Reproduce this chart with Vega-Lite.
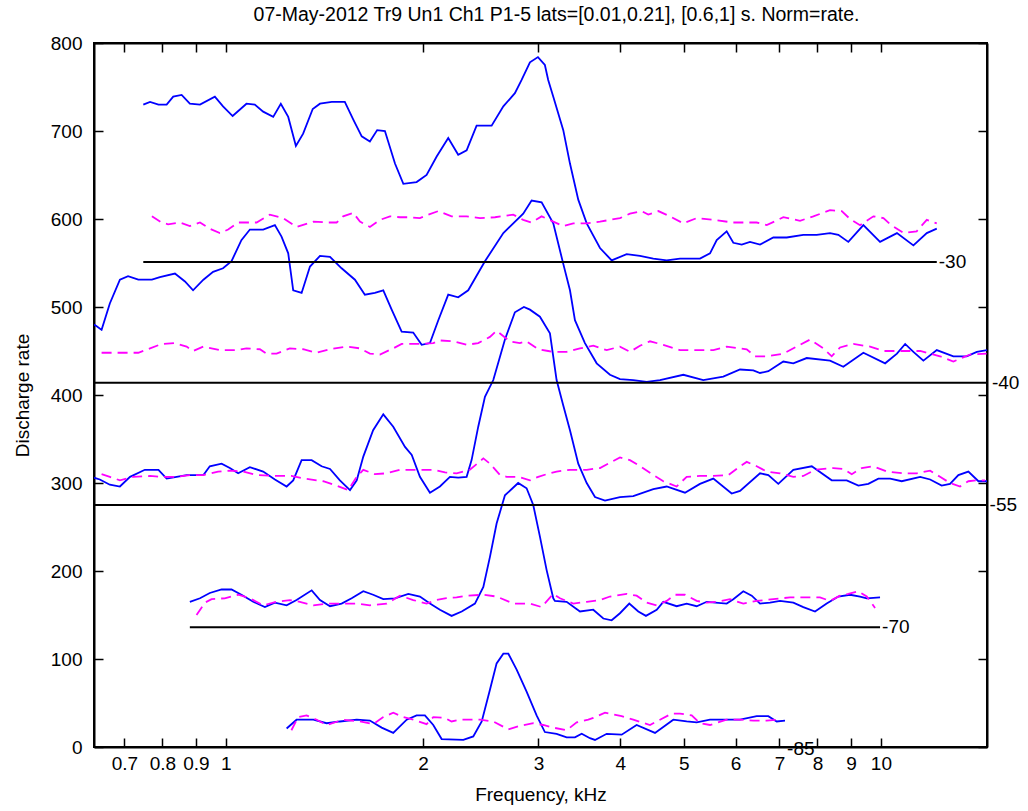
{
  "$schema": "https://vega.github.io/schema/vega-lite/v6.json",
  "autosize": {"type": "none"},
  "padding": {"left": 94, "top": 43, "right": 41, "bottom": 64},
  "width": 893,
  "height": 704,
  "background": "white",
  "title": {
    "text": "07-May-2012 Tr9 Un1 Ch1 P1-5 lats=[0.01,0.21], [0.6,1] s. Norm=rate.",
    "font": "Liberation Sans",
    "fontSize": 19.5,
    "fontWeight": "normal",
    "color": "black",
    "anchor": "middle",
    "dx": 16,
    "offset": 9
  },
  "datasets": {
    "curves": [
      {"s":"-30","k":"d","f":0.748,"r":730},{"s":"-30","k":"d","f":0.766,"r":733},{"s":"-30","k":"d","f":0.789,"r":730},{"s":"-30","k":"d","f":0.812,"r":730},{"s":"-30","k":"d","f":0.831,"r":739},{"s":"-30","k":"d","f":0.856,"r":741},{"s":"-30","k":"d","f":0.881,"r":731},{"s":"-30","k":"d","f":0.913,"r":730},{"s":"-30","k":"d","f":0.962,"r":739},{"s":"-30","k":"d","f":0.990,"r":728},{"s":"-30","k":"d","f":1.024,"r":717},{"s":"-30","k":"d","f":1.075,"r":731},{"s":"-30","k":"d","f":1.107,"r":730},{"s":"-30","k":"d","f":1.140,"r":722},{"s":"-30","k":"d","f":1.181,"r":716},{"s":"-30","k":"d","f":1.213,"r":731},{"s":"-30","k":"d","f":1.245,"r":716},{"s":"-30","k":"d","f":1.279,"r":683},{"s":"-30","k":"d","f":1.312,"r":697},{"s":"-30","k":"d","f":1.357,"r":725},{"s":"-30","k":"d","f":1.392,"r":731},{"s":"-30","k":"d","f":1.451,"r":733},{"s":"-30","k":"d","f":1.519,"r":733},{"s":"-30","k":"d","f":1.565,"r":713},{"s":"-30","k":"d","f":1.612,"r":694},{"s":"-30","k":"d","f":1.659,"r":688},{"s":"-30","k":"d","f":1.702,"r":701},{"s":"-30","k":"d","f":1.749,"r":700},{"s":"-30","k":"d","f":1.812,"r":663},{"s":"-30","k":"d","f":1.866,"r":640},{"s":"-30","k":"d","f":1.955,"r":642},{"s":"-30","k":"d","f":2.025,"r":650},{"s":"-30","k":"d","f":2.098,"r":671},{"s":"-30","k":"d","f":2.185,"r":692},{"s":"-30","k":"d","f":2.263,"r":673},{"s":"-30","k":"d","f":2.331,"r":678},{"s":"-30","k":"d","f":2.414,"r":706},{"s":"-30","k":"d","f":2.545,"r":706},{"s":"-30","k":"d","f":2.652,"r":728},{"s":"-30","k":"d","f":2.762,"r":743},{"s":"-30","k":"d","f":2.828,"r":758},{"s":"-30","k":"d","f":2.912,"r":778},{"s":"-30","k":"d","f":2.995,"r":784},{"s":"-30","k":"d","f":3.069,"r":775},{"s":"-30","k":"d","f":3.105,"r":758},{"s":"-30","k":"d","f":3.161,"r":739},{"s":"-30","k":"d","f":3.274,"r":701},{"s":"-30","k":"d","f":3.352,"r":663},{"s":"-30","k":"d","f":3.451,"r":622},{"s":"-30","k":"d","f":3.555,"r":595},{"s":"-30","k":"d","f":3.725,"r":567},{"s":"-30","k":"d","f":3.881,"r":553},{"s":"-30","k":"d","f":4.091,"r":560},{"s":"-30","k":"d","f":4.287,"r":558},{"s":"-30","k":"d","f":4.493,"r":555},{"s":"-30","k":"d","f":4.709,"r":553},{"s":"-30","k":"d","f":4.935,"r":555},{"s":"-30","k":"d","f":5.294,"r":555},{"s":"-30","k":"d","f":5.484,"r":561},{"s":"-30","k":"d","f":5.615,"r":576},{"s":"-30","k":"d","f":5.815,"r":586},{"s":"-30","k":"d","f":5.952,"r":573},{"s":"-30","k":"d","f":6.131,"r":571},{"s":"-30","k":"d","f":6.312,"r":574},{"s":"-30","k":"d","f":6.538,"r":571},{"s":"-30","k":"d","f":6.851,"r":579},{"s":"-30","k":"d","f":7.181,"r":579},{"s":"-30","k":"d","f":7.613,"r":582},{"s":"-30","k":"d","f":7.980,"r":582},{"s":"-30","k":"d","f":8.362,"r":584},{"s":"-30","k":"d","f":8.610,"r":582},{"s":"-30","k":"d","f":8.918,"r":574},{"s":"-30","k":"d","f":9.402,"r":593},{"s":"-30","k":"d","f":9.970,"r":574},{"s":"-30","k":"d","f":10.58,"r":584},{"s":"-30","k":"d","f":11.21,"r":570},{"s":"-30","k":"d","f":11.75,"r":584},{"s":"-30","k":"d","f":12.17,"r":589},

      {"s":"-30","k":"s","f":0.771,"r":603},{"s":"-30","k":"s","f":0.798,"r":596},{"s":"-30","k":"s","f":0.816,"r":594},{"s":"-30","k":"s","f":0.851,"r":596},{"s":"-30","k":"s","f":0.881,"r":592},{"s":"-30","k":"s","f":0.913,"r":596},{"s":"-30","k":"s","f":0.945,"r":589},{"s":"-30","k":"s","f":0.979,"r":584},{"s":"-30","k":"s","f":1.008,"r":588},{"s":"-30","k":"s","f":1.044,"r":596},{"s":"-30","k":"s","f":1.114,"r":596},{"s":"-30","k":"s","f":1.167,"r":605},{"s":"-30","k":"s","f":1.223,"r":601},{"s":"-30","k":"s","f":1.282,"r":591},{"s":"-30","k":"s","f":1.360,"r":597},{"s":"-30","k":"s","f":1.433,"r":596},{"s":"-30","k":"s","f":1.476,"r":596},{"s":"-30","k":"s","f":1.510,"r":603},{"s":"-30","k":"s","f":1.565,"r":607},{"s":"-30","k":"s","f":1.602,"r":597},{"s":"-30","k":"s","f":1.659,"r":591},{"s":"-30","k":"s","f":1.719,"r":599},{"s":"-30","k":"s","f":1.780,"r":603},{"s":"-30","k":"s","f":1.844,"r":602},{"s":"-30","k":"s","f":1.910,"r":602},{"s":"-30","k":"s","f":1.978,"r":601},{"s":"-30","k":"s","f":2.037,"r":605},{"s":"-30","k":"s","f":2.110,"r":609},{"s":"-30","k":"s","f":2.211,"r":603},{"s":"-30","k":"s","f":2.331,"r":603},{"s":"-30","k":"s","f":2.443,"r":601},{"s":"-30","k":"s","f":2.575,"r":602},{"s":"-30","k":"s","f":2.746,"r":605},{"s":"-30","k":"s","f":2.844,"r":599},{"s":"-30","k":"s","f":2.929,"r":596},{"s":"-30","k":"s","f":3.034,"r":603},{"s":"-30","k":"s","f":3.161,"r":597},{"s":"-30","k":"s","f":3.274,"r":592},{"s":"-30","k":"s","f":3.391,"r":595},{"s":"-30","k":"s","f":3.555,"r":595},{"s":"-30","k":"s","f":3.725,"r":597},{"s":"-30","k":"s","f":3.996,"r":601},{"s":"-30","k":"s","f":4.139,"r":606},{"s":"-30","k":"s","f":4.313,"r":609},{"s":"-30","k":"s","f":4.414,"r":605},{"s":"-30","k":"s","f":4.573,"r":609},{"s":"-30","k":"s","f":4.764,"r":603},{"s":"-30","k":"s","f":4.993,"r":595},{"s":"-30","k":"s","f":5.233,"r":601},{"s":"-30","k":"s","f":5.548,"r":599},{"s":"-30","k":"s","f":5.952,"r":596},{"s":"-30","k":"s","f":6.239,"r":596},{"s":"-30","k":"s","f":6.462,"r":596},{"s":"-30","k":"s","f":6.694,"r":593},{"s":"-30","k":"s","f":7.096,"r":602},{"s":"-30","k":"s","f":7.525,"r":598},{"s":"-30","k":"s","f":7.886,"r":603},{"s":"-30","k":"s","f":8.362,"r":610},{"s":"-30","k":"s","f":8.714,"r":609},{"s":"-30","k":"s","f":8.972,"r":600},{"s":"-30","k":"s","f":9.293,"r":593},{"s":"-30","k":"s","f":9.739,"r":603},{"s":"-30","k":"s","f":10.09,"r":601},{"s":"-30","k":"s","f":10.33,"r":594},{"s":"-30","k":"s","f":10.83,"r":584},{"s":"-30","k":"s","f":11.34,"r":586},{"s":"-30","k":"s","f":11.75,"r":599},{"s":"-30","k":"s","f":12.17,"r":595},

      {"s":"-40","k":"d","f":0.629,"r":480},{"s":"-40","k":"d","f":0.635,"r":478},{"s":"-40","k":"d","f":0.646,"r":474},{"s":"-40","k":"d","f":0.665,"r":504},{"s":"-40","k":"d","f":0.689,"r":531},{"s":"-40","k":"d","f":0.709,"r":535},{"s":"-40","k":"d","f":0.735,"r":531},{"s":"-40","k":"d","f":0.771,"r":531},{"s":"-40","k":"d","f":0.793,"r":534},{"s":"-40","k":"d","f":0.836,"r":538},{"s":"-40","k":"d","f":0.866,"r":529},{"s":"-40","k":"d","f":0.891,"r":519},{"s":"-40","k":"d","f":0.924,"r":531},{"s":"-40","k":"d","f":0.956,"r":540},{"s":"-40","k":"d","f":0.990,"r":544},{"s":"-40","k":"d","f":1.020,"r":552},{"s":"-40","k":"d","f":1.056,"r":576},{"s":"-40","k":"d","f":1.088,"r":588},{"s":"-40","k":"d","f":1.140,"r":588},{"s":"-40","k":"d","f":1.188,"r":593},{"s":"-40","k":"d","f":1.216,"r":580},{"s":"-40","k":"d","f":1.245,"r":561},{"s":"-40","k":"d","f":1.267,"r":519},{"s":"-40","k":"d","f":1.305,"r":516},{"s":"-40","k":"d","f":1.344,"r":546},{"s":"-40","k":"d","f":1.392,"r":558},{"s":"-40","k":"d","f":1.442,"r":557},{"s":"-40","k":"d","f":1.502,"r":544},{"s":"-40","k":"d","f":1.574,"r":531},{"s":"-40","k":"d","f":1.630,"r":514},{"s":"-40","k":"d","f":1.688,"r":516},{"s":"-40","k":"d","f":1.739,"r":519},{"s":"-40","k":"d","f":1.791,"r":497},{"s":"-40","k":"d","f":1.855,"r":472},{"s":"-40","k":"d","f":1.932,"r":471},{"s":"-40","k":"d","f":1.990,"r":457},{"s":"-40","k":"d","f":2.049,"r":459},{"s":"-40","k":"d","f":2.110,"r":485},{"s":"-40","k":"d","f":2.185,"r":514},{"s":"-40","k":"d","f":2.263,"r":511},{"s":"-40","k":"d","f":2.344,"r":519},{"s":"-40","k":"d","f":2.486,"r":552},{"s":"-40","k":"d","f":2.652,"r":584},{"s":"-40","k":"d","f":2.844,"r":606},{"s":"-40","k":"d","f":2.929,"r":621},{"s":"-40","k":"d","f":3.034,"r":619},{"s":"-40","k":"d","f":3.161,"r":595},{"s":"-40","k":"d","f":3.274,"r":549},{"s":"-40","k":"d","f":3.352,"r":519},{"s":"-40","k":"d","f":3.411,"r":485},{"s":"-40","k":"d","f":3.533,"r":459},{"s":"-40","k":"d","f":3.682,"r":436},{"s":"-40","k":"d","f":3.858,"r":423},{"s":"-40","k":"d","f":3.996,"r":418},{"s":"-40","k":"d","f":4.187,"r":417},{"s":"-40","k":"d","f":4.389,"r":415},{"s":"-40","k":"d","f":4.600,"r":417},{"s":"-40","k":"d","f":4.993,"r":423},{"s":"-40","k":"d","f":5.356,"r":417},{"s":"-40","k":"d","f":5.746,"r":421},{"s":"-40","k":"d","f":6.094,"r":429},{"s":"-40","k":"d","f":6.386,"r":428},{"s":"-40","k":"d","f":6.538,"r":425},{"s":"-40","k":"d","f":6.732,"r":427},{"s":"-40","k":"d","f":7.096,"r":438},{"s":"-40","k":"d","f":7.350,"r":436},{"s":"-40","k":"d","f":7.704,"r":442},{"s":"-40","k":"d","f":8.362,"r":439},{"s":"-40","k":"d","f":8.763,"r":432},{"s":"-40","k":"d","f":9.402,"r":448},{"s":"-40","k":"d","f":10.15,"r":436},{"s":"-40","k":"d","f":10.58,"r":447},{"s":"-40","k":"d","f":10.89,"r":458},{"s":"-40","k":"d","f":11.21,"r":449},{"s":"-40","k":"d","f":11.61,"r":439},{"s":"-40","k":"d","f":12.17,"r":451},{"s":"-40","k":"d","f":12.90,"r":444},{"s":"-40","k":"d","f":13.52,"r":444},{"s":"-40","k":"d","f":14.01,"r":449},{"s":"-40","k":"d","f":14.52,"r":451},

      {"s":"-40","k":"s","f":0.646,"r":448},{"s":"-40","k":"s","f":0.693,"r":448},{"s":"-40","k":"s","f":0.735,"r":448},{"s":"-40","k":"s","f":0.766,"r":453},{"s":"-40","k":"s","f":0.798,"r":458},{"s":"-40","k":"s","f":0.836,"r":459},{"s":"-40","k":"s","f":0.871,"r":455},{"s":"-40","k":"s","f":0.891,"r":450},{"s":"-40","k":"s","f":0.924,"r":455},{"s":"-40","k":"s","f":0.979,"r":451},{"s":"-40","k":"s","f":1.038,"r":451},{"s":"-40","k":"s","f":1.075,"r":453},{"s":"-40","k":"s","f":1.127,"r":452},{"s":"-40","k":"s","f":1.154,"r":447},{"s":"-40","k":"s","f":1.195,"r":447},{"s":"-40","k":"s","f":1.252,"r":453},{"s":"-40","k":"s","f":1.312,"r":452},{"s":"-40","k":"s","f":1.376,"r":448},{"s":"-40","k":"s","f":1.442,"r":452},{"s":"-40","k":"s","f":1.529,"r":455},{"s":"-40","k":"s","f":1.602,"r":453},{"s":"-40","k":"s","f":1.659,"r":447},{"s":"-40","k":"s","f":1.719,"r":446},{"s":"-40","k":"s","f":1.801,"r":453},{"s":"-40","k":"s","f":1.855,"r":458},{"s":"-40","k":"s","f":1.978,"r":458},{"s":"-40","k":"s","f":2.073,"r":459},{"s":"-40","k":"s","f":2.122,"r":462},{"s":"-40","k":"s","f":2.224,"r":461},{"s":"-40","k":"s","f":2.331,"r":457},{"s":"-40","k":"s","f":2.428,"r":459},{"s":"-40","k":"s","f":2.530,"r":466},{"s":"-40","k":"s","f":2.590,"r":473},{"s":"-40","k":"s","f":2.714,"r":461},{"s":"-40","k":"s","f":2.811,"r":459},{"s":"-40","k":"s","f":2.878,"r":461},{"s":"-40","k":"s","f":2.998,"r":452},{"s":"-40","k":"s","f":3.105,"r":450},{"s":"-40","k":"s","f":3.161,"r":449},{"s":"-40","k":"s","f":3.313,"r":449},{"s":"-40","k":"s","f":3.472,"r":453},{"s":"-40","k":"s","f":3.638,"r":456},{"s":"-40","k":"s","f":3.814,"r":451},{"s":"-40","k":"s","f":3.996,"r":455},{"s":"-40","k":"s","f":4.139,"r":449},{"s":"-40","k":"s","f":4.287,"r":456},{"s":"-40","k":"s","f":4.441,"r":461},{"s":"-40","k":"s","f":4.654,"r":457},{"s":"-40","k":"s","f":4.935,"r":451},{"s":"-40","k":"s","f":5.233,"r":451},{"s":"-40","k":"s","f":5.548,"r":451},{"s":"-40","k":"s","f":5.815,"r":455},{"s":"-40","k":"s","f":6.239,"r":452},{"s":"-40","k":"s","f":6.424,"r":444},{"s":"-40","k":"s","f":6.694,"r":444},{"s":"-40","k":"s","f":7.096,"r":447},{"s":"-40","k":"s","f":7.438,"r":455},{"s":"-40","k":"s","f":7.795,"r":463},{"s":"-40","k":"s","f":8.168,"r":453},{"s":"-40","k":"s","f":8.412,"r":444},{"s":"-40","k":"s","f":8.662,"r":454},{"s":"-40","k":"s","f":9.077,"r":458},{"s":"-40","k":"s","f":9.626,"r":455},{"s":"-40","k":"s","f":10.09,"r":450},{"s":"-40","k":"s","f":10.70,"r":450},{"s":"-40","k":"s","f":11.48,"r":450},{"s":"-40","k":"s","f":12.31,"r":444},{"s":"-40","k":"s","f":12.90,"r":438},{"s":"-40","k":"s","f":13.68,"r":446},{"s":"-40","k":"s","f":14.50,"r":447},

      {"s":"-55","k":"d","f":0.629,"r":306},{"s":"-55","k":"d","f":0.642,"r":304},{"s":"-55","k":"d","f":0.665,"r":298},{"s":"-55","k":"d","f":0.689,"r":296},{"s":"-55","k":"d","f":0.714,"r":307},{"s":"-55","k":"d","f":0.752,"r":315},{"s":"-55","k":"d","f":0.789,"r":315},{"s":"-55","k":"d","f":0.812,"r":305},{"s":"-55","k":"d","f":0.841,"r":307},{"s":"-55","k":"d","f":0.871,"r":309},{"s":"-55","k":"d","f":0.924,"r":309},{"s":"-55","k":"d","f":0.945,"r":319},{"s":"-55","k":"d","f":0.985,"r":322},{"s":"-55","k":"d","f":1.014,"r":317},{"s":"-55","k":"d","f":1.044,"r":311},{"s":"-55","k":"d","f":1.088,"r":318},{"s":"-55","k":"d","f":1.140,"r":313},{"s":"-55","k":"d","f":1.188,"r":304},{"s":"-55","k":"d","f":1.238,"r":296},{"s":"-55","k":"d","f":1.267,"r":303},{"s":"-55","k":"d","f":1.305,"r":326},{"s":"-55","k":"d","f":1.352,"r":326},{"s":"-55","k":"d","f":1.400,"r":319},{"s":"-55","k":"d","f":1.442,"r":316},{"s":"-55","k":"d","f":1.493,"r":303},{"s":"-55","k":"d","f":1.547,"r":292},{"s":"-55","k":"d","f":1.584,"r":303},{"s":"-55","k":"d","f":1.621,"r":330},{"s":"-55","k":"d","f":1.678,"r":360},{"s":"-55","k":"d","f":1.739,"r":378},{"s":"-55","k":"d","f":1.801,"r":364},{"s":"-55","k":"d","f":1.877,"r":341},{"s":"-55","k":"d","f":1.922,"r":332},{"s":"-55","k":"d","f":1.978,"r":307},{"s":"-55","k":"d","f":2.049,"r":289},{"s":"-55","k":"d","f":2.122,"r":296},{"s":"-55","k":"d","f":2.198,"r":307},{"s":"-55","k":"d","f":2.263,"r":306},{"s":"-55","k":"d","f":2.331,"r":307},{"s":"-55","k":"d","f":2.372,"r":326},{"s":"-55","k":"d","f":2.428,"r":364},{"s":"-55","k":"d","f":2.486,"r":398},{"s":"-55","k":"d","f":2.560,"r":417},{"s":"-55","k":"d","f":2.667,"r":463},{"s":"-55","k":"d","f":2.762,"r":494},{"s":"-55","k":"d","f":2.851,"r":500},{"s":"-55","k":"d","f":2.912,"r":497},{"s":"-55","k":"d","f":3.016,"r":489},{"s":"-55","k":"d","f":3.124,"r":470},{"s":"-55","k":"d","f":3.198,"r":417},{"s":"-55","k":"d","f":3.274,"r":388},{"s":"-55","k":"d","f":3.352,"r":360},{"s":"-55","k":"d","f":3.451,"r":322},{"s":"-55","k":"d","f":3.555,"r":300},{"s":"-55","k":"d","f":3.660,"r":284},{"s":"-55","k":"d","f":3.791,"r":280},{"s":"-55","k":"d","f":3.996,"r":284},{"s":"-55","k":"d","f":4.187,"r":285},{"s":"-55","k":"d","f":4.493,"r":293},{"s":"-55","k":"d","f":4.709,"r":296},{"s":"-55","k":"d","f":5.022,"r":289},{"s":"-55","k":"d","f":5.294,"r":299},{"s":"-55","k":"d","f":5.548,"r":305},{"s":"-55","k":"d","f":5.918,"r":288},{"s":"-55","k":"d","f":6.094,"r":291},{"s":"-55","k":"d","f":6.538,"r":311},{"s":"-55","k":"d","f":6.732,"r":309},{"s":"-55","k":"d","f":6.972,"r":299},{"s":"-55","k":"d","f":7.350,"r":315},{"s":"-55","k":"d","f":7.842,"r":319},{"s":"-55","k":"d","f":8.412,"r":303},{"s":"-55","k":"d","f":8.868,"r":303},{"s":"-55","k":"d","f":9.238,"r":297},{"s":"-55","k":"d","f":9.568,"r":299},{"s":"-55","k":"d","f":9.911,"r":305},{"s":"-55","k":"d","f":10.33,"r":305},{"s":"-55","k":"d","f":10.76,"r":302},{"s":"-55","k":"d","f":11.48,"r":307},{"s":"-55","k":"d","f":11.89,"r":304},{"s":"-55","k":"d","f":12.38,"r":297},{"s":"-55","k":"d","f":12.75,"r":299},{"s":"-55","k":"d","f":13.13,"r":309},{"s":"-55","k":"d","f":13.60,"r":313},{"s":"-55","k":"d","f":14.09,"r":302},{"s":"-55","k":"d","f":14.52,"r":302},

      {"s":"-55","k":"s","f":0.646,"r":310},{"s":"-55","k":"s","f":0.665,"r":307},{"s":"-55","k":"s","f":0.689,"r":303},{"s":"-55","k":"s","f":0.722,"r":307},{"s":"-55","k":"s","f":0.766,"r":308},{"s":"-55","k":"s","f":0.798,"r":307},{"s":"-55","k":"s","f":0.841,"r":307},{"s":"-55","k":"s","f":0.881,"r":309},{"s":"-55","k":"s","f":0.924,"r":309},{"s":"-55","k":"s","f":0.973,"r":313},{"s":"-55","k":"s","f":1.014,"r":314},{"s":"-55","k":"s","f":1.062,"r":313},{"s":"-55","k":"s","f":1.114,"r":309},{"s":"-55","k":"s","f":1.188,"r":308},{"s":"-55","k":"s","f":1.259,"r":308},{"s":"-55","k":"s","f":1.320,"r":305},{"s":"-55","k":"s","f":1.408,"r":302},{"s":"-55","k":"s","f":1.476,"r":297},{"s":"-55","k":"s","f":1.537,"r":292},{"s":"-55","k":"s","f":1.584,"r":307},{"s":"-55","k":"s","f":1.621,"r":315},{"s":"-55","k":"s","f":1.688,"r":310},{"s":"-55","k":"s","f":1.760,"r":311},{"s":"-55","k":"s","f":1.844,"r":315},{"s":"-55","k":"s","f":1.955,"r":315},{"s":"-55","k":"s","f":2.073,"r":315},{"s":"-55","k":"s","f":2.160,"r":312},{"s":"-55","k":"s","f":2.250,"r":311},{"s":"-55","k":"s","f":2.358,"r":315},{"s":"-55","k":"s","f":2.472,"r":328},{"s":"-55","k":"s","f":2.530,"r":322},{"s":"-55","k":"s","f":2.621,"r":309},{"s":"-55","k":"s","f":2.683,"r":307},{"s":"-55","k":"s","f":2.794,"r":307},{"s":"-55","k":"s","f":2.912,"r":303},{"s":"-55","k":"s","f":2.998,"r":307},{"s":"-55","k":"s","f":3.088,"r":310},{"s":"-55","k":"s","f":3.198,"r":313},{"s":"-55","k":"s","f":3.352,"r":315},{"s":"-55","k":"s","f":3.555,"r":315},{"s":"-55","k":"s","f":3.725,"r":317},{"s":"-55","k":"s","f":3.996,"r":329},{"s":"-55","k":"s","f":4.139,"r":326},{"s":"-55","k":"s","f":4.313,"r":318},{"s":"-55","k":"s","f":4.493,"r":309},{"s":"-55","k":"s","f":4.654,"r":302},{"s":"-55","k":"s","f":4.877,"r":296},{"s":"-55","k":"s","f":5.052,"r":307},{"s":"-55","k":"s","f":5.294,"r":308},{"s":"-55","k":"s","f":5.548,"r":308},{"s":"-55","k":"s","f":5.848,"r":309},{"s":"-55","k":"s","f":6.094,"r":319},{"s":"-55","k":"s","f":6.239,"r":324},{"s":"-55","k":"s","f":6.462,"r":319},{"s":"-55","k":"s","f":6.694,"r":313},{"s":"-55","k":"s","f":7.014,"r":311},{"s":"-55","k":"s","f":7.350,"r":307},{"s":"-55","k":"s","f":7.613,"r":308},{"s":"-55","k":"s","f":7.933,"r":315},{"s":"-55","k":"s","f":8.460,"r":317},{"s":"-55","k":"s","f":8.763,"r":316},{"s":"-55","k":"s","f":9.026,"r":310},{"s":"-55","k":"s","f":9.349,"r":317},{"s":"-55","k":"s","f":9.739,"r":319},{"s":"-55","k":"s","f":10.21,"r":313},{"s":"-55","k":"s","f":10.83,"r":311},{"s":"-55","k":"s","f":11.34,"r":311},{"s":"-55","k":"s","f":11.89,"r":314},{"s":"-55","k":"s","f":12.31,"r":307},{"s":"-55","k":"s","f":12.75,"r":300},{"s":"-55","k":"s","f":13.21,"r":296},{"s":"-55","k":"s","f":13.60,"r":302},{"s":"-55","k":"s","f":14.01,"r":303},{"s":"-55","k":"s","f":14.42,"r":303},

      {"s":"-70","k":"d","f":0.881,"r":165},{"s":"-70","k":"d","f":0.913,"r":169},{"s":"-70","k":"d","f":0.945,"r":175},{"s":"-70","k":"d","f":0.985,"r":179},{"s":"-70","k":"d","f":1.020,"r":179},{"s":"-70","k":"d","f":1.056,"r":173},{"s":"-70","k":"d","f":1.101,"r":165},{"s":"-70","k":"d","f":1.147,"r":159},{"s":"-70","k":"d","f":1.188,"r":164},{"s":"-70","k":"d","f":1.238,"r":161},{"s":"-70","k":"d","f":1.282,"r":167},{"s":"-70","k":"d","f":1.352,"r":178},{"s":"-70","k":"d","f":1.392,"r":167},{"s":"-70","k":"d","f":1.442,"r":160},{"s":"-70","k":"d","f":1.502,"r":163},{"s":"-70","k":"d","f":1.556,"r":169},{"s":"-70","k":"d","f":1.621,"r":177},{"s":"-70","k":"d","f":1.678,"r":173},{"s":"-70","k":"d","f":1.739,"r":168},{"s":"-70","k":"d","f":1.812,"r":169},{"s":"-70","k":"d","f":1.899,"r":174},{"s":"-70","k":"d","f":1.978,"r":171},{"s":"-70","k":"d","f":2.049,"r":163},{"s":"-70","k":"d","f":2.122,"r":156},{"s":"-70","k":"d","f":2.211,"r":149},{"s":"-70","k":"d","f":2.291,"r":154},{"s":"-70","k":"d","f":2.400,"r":163},{"s":"-70","k":"d","f":2.472,"r":182},{"s":"-70","k":"d","f":2.530,"r":216},{"s":"-70","k":"d","f":2.590,"r":254},{"s":"-70","k":"d","f":2.667,"r":286},{"s":"-70","k":"d","f":2.794,"r":300},{"s":"-70","k":"d","f":2.878,"r":294},{"s":"-70","k":"d","f":2.946,"r":275},{"s":"-70","k":"d","f":3.016,"r":239},{"s":"-70","k":"d","f":3.088,"r":201},{"s":"-70","k":"d","f":3.161,"r":169},{"s":"-70","k":"d","f":3.179,"r":166},{"s":"-70","k":"d","f":3.313,"r":165},{"s":"-70","k":"d","f":3.472,"r":154},{"s":"-70","k":"d","f":3.638,"r":156},{"s":"-70","k":"d","f":3.769,"r":146},{"s":"-70","k":"d","f":3.881,"r":144},{"s":"-70","k":"d","f":3.996,"r":152},{"s":"-70","k":"d","f":4.129,"r":163},{"s":"-70","k":"d","f":4.262,"r":154},{"s":"-70","k":"d","f":4.378,"r":149},{"s":"-70","k":"d","f":4.547,"r":156},{"s":"-70","k":"d","f":4.654,"r":165},{"s":"-70","k":"d","f":4.877,"r":160},{"s":"-70","k":"d","f":5.052,"r":163},{"s":"-70","k":"d","f":5.233,"r":160},{"s":"-70","k":"d","f":5.420,"r":165},{"s":"-70","k":"d","f":5.815,"r":163},{"s":"-70","k":"d","f":5.952,"r":168},{"s":"-70","k":"d","f":6.165,"r":177},{"s":"-70","k":"d","f":6.350,"r":172},{"s":"-70","k":"d","f":6.538,"r":163},{"s":"-70","k":"d","f":6.772,"r":164},{"s":"-70","k":"d","f":7.014,"r":166},{"s":"-70","k":"d","f":7.350,"r":164},{"s":"-70","k":"d","f":7.613,"r":159},{"s":"-70","k":"d","f":7.933,"r":154},{"s":"-70","k":"d","f":8.265,"r":163},{"s":"-70","k":"d","f":8.610,"r":171},{"s":"-70","k":"d","f":8.972,"r":173},{"s":"-70","k":"d","f":9.293,"r":171},{"s":"-70","k":"d","f":9.514,"r":169},{"s":"-70","k":"d","f":9.970,"r":170},

      {"s":"-70","k":"s","f":0.902,"r":150},{"s":"-70","k":"s","f":0.929,"r":164},{"s":"-70","k":"s","f":0.951,"r":168},{"s":"-70","k":"s","f":0.996,"r":169},{"s":"-70","k":"s","f":1.044,"r":173},{"s":"-70","k":"s","f":1.088,"r":169},{"s":"-70","k":"s","f":1.140,"r":161},{"s":"-70","k":"s","f":1.195,"r":165},{"s":"-70","k":"s","f":1.252,"r":167},{"s":"-70","k":"s","f":1.297,"r":165},{"s":"-70","k":"s","f":1.360,"r":161},{"s":"-70","k":"s","f":1.425,"r":163},{"s":"-70","k":"s","f":1.493,"r":163},{"s":"-70","k":"s","f":1.584,"r":163},{"s":"-70","k":"s","f":1.659,"r":161},{"s":"-70","k":"s","f":1.760,"r":163},{"s":"-70","k":"s","f":1.844,"r":172},{"s":"-70","k":"s","f":1.932,"r":167},{"s":"-70","k":"s","f":2.025,"r":163},{"s":"-70","k":"s","f":2.098,"r":167},{"s":"-70","k":"s","f":2.160,"r":169},{"s":"-70","k":"s","f":2.250,"r":170},{"s":"-70","k":"s","f":2.331,"r":172},{"s":"-70","k":"s","f":2.472,"r":173},{"s":"-70","k":"s","f":2.590,"r":171},{"s":"-70","k":"s","f":2.746,"r":163},{"s":"-70","k":"s","f":2.912,"r":163},{"s":"-70","k":"s","f":3.034,"r":159},{"s":"-70","k":"s","f":3.161,"r":174},{"s":"-70","k":"s","f":3.236,"r":169},{"s":"-70","k":"s","f":3.391,"r":163},{"s":"-70","k":"s","f":3.555,"r":165},{"s":"-70","k":"s","f":3.725,"r":167},{"s":"-70","k":"s","f":3.858,"r":171},{"s":"-70","k":"s","f":4.091,"r":174},{"s":"-70","k":"s","f":4.237,"r":172},{"s":"-70","k":"s","f":4.389,"r":164},{"s":"-70","k":"s","f":4.547,"r":161},{"s":"-70","k":"s","f":4.709,"r":166},{"s":"-70","k":"s","f":4.848,"r":173},{"s":"-70","k":"s","f":5.022,"r":173},{"s":"-70","k":"s","f":5.233,"r":166},{"s":"-70","k":"s","f":5.420,"r":164},{"s":"-70","k":"s","f":5.615,"r":165},{"s":"-70","k":"s","f":5.883,"r":168},{"s":"-70","k":"s","f":6.165,"r":163},{"s":"-70","k":"s","f":6.462,"r":166},{"s":"-70","k":"s","f":6.851,"r":168},{"s":"-70","k":"s","f":7.265,"r":170},{"s":"-70","k":"s","f":7.704,"r":170},{"s":"-70","k":"s","f":8.073,"r":170},{"s":"-70","k":"s","f":8.362,"r":166},{"s":"-70","k":"s","f":8.662,"r":172},{"s":"-70","k":"s","f":8.918,"r":174},{"s":"-70","k":"s","f":9.238,"r":177},{"s":"-70","k":"s","f":9.514,"r":171},{"s":"-70","k":"s","f":9.796,"r":158},

      {"s":"-85","k":"d","f":1.238,"r":21},{"s":"-85","k":"d","f":1.282,"r":31},{"s":"-85","k":"d","f":1.360,"r":31},{"s":"-85","k":"d","f":1.425,"r":27},{"s":"-85","k":"d","f":1.493,"r":29},{"s":"-85","k":"d","f":1.584,"r":31},{"s":"-85","k":"d","f":1.659,"r":30},{"s":"-85","k":"d","f":1.729,"r":22},{"s":"-85","k":"d","f":1.801,"r":16},{"s":"-85","k":"d","f":1.888,"r":31},{"s":"-85","k":"d","f":1.955,"r":36},{"s":"-85","k":"d","f":2.013,"r":36},{"s":"-85","k":"d","f":2.073,"r":25},{"s":"-85","k":"d","f":2.135,"r":9},{"s":"-85","k":"d","f":2.304,"r":8},{"s":"-85","k":"d","f":2.386,"r":12},{"s":"-85","k":"d","f":2.458,"r":29},{"s":"-85","k":"d","f":2.530,"r":65},{"s":"-85","k":"d","f":2.590,"r":95},{"s":"-85","k":"d","f":2.652,"r":106},{"s":"-85","k":"d","f":2.699,"r":106},{"s":"-85","k":"d","f":2.779,"r":88},{"s":"-85","k":"d","f":2.878,"r":63},{"s":"-85","k":"d","f":2.981,"r":36},{"s":"-85","k":"d","f":3.069,"r":17},{"s":"-85","k":"d","f":3.198,"r":15},{"s":"-85","k":"d","f":3.313,"r":11},{"s":"-85","k":"d","f":3.411,"r":11},{"s":"-85","k":"d","f":3.493,"r":15},{"s":"-85","k":"d","f":3.596,"r":10},{"s":"-85","k":"d","f":3.660,"r":8},{"s":"-85","k":"d","f":3.814,"r":15},{"s":"-85","k":"d","f":4.020,"r":14},{"s":"-85","k":"d","f":4.237,"r":25},{"s":"-85","k":"d","f":4.520,"r":16},{"s":"-85","k":"d","f":4.820,"r":31},{"s":"-85","k":"d","f":5.052,"r":29},{"s":"-85","k":"d","f":5.233,"r":28},{"s":"-85","k":"d","f":5.484,"r":31},{"s":"-85","k":"d","f":5.815,"r":31},{"s":"-85","k":"d","f":6.094,"r":31},{"s":"-85","k":"d","f":6.462,"r":35},{"s":"-85","k":"d","f":6.732,"r":35},{"s":"-85","k":"d","f":6.933,"r":29},{"s":"-85","k":"d","f":7.138,"r":30},

      {"s":"-85","k":"s","f":1.259,"r":19},{"s":"-85","k":"s","f":1.289,"r":34},{"s":"-85","k":"s","f":1.328,"r":36},{"s":"-85","k":"s","f":1.376,"r":31},{"s":"-85","k":"s","f":1.425,"r":25},{"s":"-85","k":"s","f":1.510,"r":31},{"s":"-85","k":"s","f":1.602,"r":29},{"s":"-85","k":"s","f":1.678,"r":26},{"s":"-85","k":"s","f":1.739,"r":34},{"s":"-85","k":"s","f":1.801,"r":39},{"s":"-85","k":"s","f":1.866,"r":34},{"s":"-85","k":"s","f":1.932,"r":31},{"s":"-85","k":"s","f":2.025,"r":26},{"s":"-85","k":"s","f":2.073,"r":34},{"s":"-85","k":"s","f":2.160,"r":33},{"s":"-85","k":"s","f":2.211,"r":29},{"s":"-85","k":"s","f":2.277,"r":31},{"s":"-85","k":"s","f":2.443,"r":31},{"s":"-85","k":"s","f":2.560,"r":29},{"s":"-85","k":"s","f":2.699,"r":20},{"s":"-85","k":"s","f":2.811,"r":24},{"s":"-85","k":"s","f":2.946,"r":27},{"s":"-85","k":"s","f":3.051,"r":25},{"s":"-85","k":"s","f":3.161,"r":22},{"s":"-85","k":"s","f":3.313,"r":19},{"s":"-85","k":"s","f":3.432,"r":28},{"s":"-85","k":"s","f":3.575,"r":31},{"s":"-85","k":"s","f":3.638,"r":33},{"s":"-85","k":"s","f":3.791,"r":39},{"s":"-85","k":"s","f":4.020,"r":35},{"s":"-85","k":"s","f":4.187,"r":31},{"s":"-85","k":"s","f":4.441,"r":25},{"s":"-85","k":"s","f":4.600,"r":31},{"s":"-85","k":"s","f":4.793,"r":38},{"s":"-85","k":"s","f":4.935,"r":38},{"s":"-85","k":"s","f":5.142,"r":36},{"s":"-85","k":"s","f":5.294,"r":27},{"s":"-85","k":"s","f":5.484,"r":25},{"s":"-85","k":"s","f":5.815,"r":31},{"s":"-85","k":"s","f":6.094,"r":31},{"s":"-85","k":"s","f":6.386,"r":30},{"s":"-85","k":"s","f":6.694,"r":30},{"s":"-85","k":"s","f":6.933,"r":31}
    ],
    "bases": [
      {"s":"-30","f0":0.748,"f1":12.17,"b":551},
      {"s":"-40","f0":0.6,"f1":14.67,"b":414},
      {"s":"-55","f0":0.6,"f1":14.55,"b":275},
      {"s":"-70","f0":0.881,"f1":9.97,"b":136},
      {"s":"-85","f0":1.238,"f1":7.14,"b":-2}
    ]
  },
  "layer": [
    {
      "data": {"name": "curves"},
      "transform": [{"filter": "datum.k === 'd'"}],
      "mark": {"type": "line", "color": "#0000ff", "strokeWidth": 1.8, "clip": true},
      "encoding": {
        "x": {
          "field": "f", "type": "quantitative",
          "scale": {"type": "log", "domain": [0.629, 14.52], "nice": false},
          "axis": {
            "orient": "bottom",
            "values": [0.7, 0.8, 0.9, 1, 2, 3, 4, 5, 6, 7, 8, 9, 10],
            "format": "~g",
            "title": "Frequency, kHz",
            "labelPadding": 16,
            "titlePadding": 12
          }
        },
        "y": {
          "field": "r", "type": "quantitative",
          "scale": {"domain": [0, 800], "nice": false, "zero": false},
          "axis": {
            "orient": "left",
            "values": [0, 100, 200, 300, 400, 500, 600, 700, 800],
            "format": "d",
            "title": "Discharge rate",
            "labelPadding": 21,
            "titlePadding": 18
          }
        },
        "detail": {"field": "s"}
      }
    },
    {
      "data": {"name": "curves"},
      "transform": [{"filter": "datum.k === 's'"}],
      "mark": {"type": "line", "color": "#ff00ff", "strokeWidth": 1.8, "strokeDash": [10, 6], "clip": true},
      "encoding": {
        "x": {
          "field": "f", "type": "quantitative",
          "scale": {"type": "log", "domain": [0.629, 14.52], "nice": false},
          "axis": {
            "orient": "top",
            "values": [0.7, 0.8, 0.9, 1, 2, 3, 4, 5, 6, 7, 8, 9, 10],
            "labels": false,
            "title": null
          }
        },
        "y": {
          "field": "r", "type": "quantitative",
          "scale": {"domain": [0, 800], "nice": false, "zero": false},
          "axis": {
            "orient": "right",
            "values": [0, 100, 200, 300, 400, 500, 600, 700, 800],
            "labels": false,
            "title": null
          }
        },
        "detail": {"field": "s"}
      }
    },
    {
      "data": {"name": "bases"},
      "mark": {"type": "rule", "color": "black", "strokeWidth": 2, "clip": true},
      "encoding": {
        "x": {"field": "f0", "type": "quantitative", "axis": null},
        "x2": {"field": "f1"},
        "y": {"field": "b", "type": "quantitative", "axis": null}
      }
    },
    {
      "data": {"name": "bases"},
      "mark": {"type": "text", "align": "left", "baseline": "middle", "dx": 2, "font": "Liberation Sans", "fontSize": 19, "color": "black"},
      "encoding": {
        "x": {"field": "f1", "type": "quantitative", "axis": null},
        "y": {"field": "b", "type": "quantitative", "axis": null},
        "text": {"field": "s"}
      }
    }
  ],
  "resolve": {"axis": {"x": "independent", "y": "independent"}},
  "config": {
    "view": {"stroke": "black", "strokeWidth": 2},
    "axis": {
      "grid": false,
      "domainColor": "black",
      "domainWidth": 2,
      "tickColor": "black",
      "tickWidth": 1.5,
      "tickSize": -9,
      "labelColor": "black",
      "labelFont": "Liberation Sans",
      "labelFontSize": 19,
      "labelOverlap": false,
      "labelFlush": false,
      "titleColor": "black",
      "titleFont": "Liberation Sans",
      "titleFontSize": 19,
      "titleFontWeight": "normal"
    }
  }
}
